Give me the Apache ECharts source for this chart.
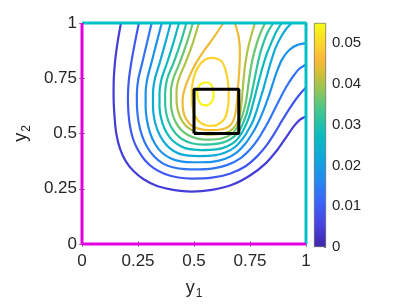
<!DOCTYPE html>
<html><head><meta charset="utf-8">
<script src="https://cdn.jsdelivr.net/npm/echarts@6/dist/echarts.min.js"></script>
<style>html,body{margin:0;padding:0;background:#fff}#c{width:407px;height:305px}</style>
</head><body><div id="c"></div>
<script>
// ---- data ----
const xTicks = [0, 0.25, 0.5, 0.75, 1];
const yTicks = [0, 0.25, 0.5, 0.75, 1];
const cbTicks = [0, 0.01, 0.02, 0.03, 0.04, 0.05];
const cMax = 0.0549;
const levels = [0.0045, 0.009, 0.0135, 0.018, 0.0225, 0.027, 0.0315, 0.036, 0.0405, 0.045, 0.0495, 0.054];

const c1 = [[0.174,1],[0.16,0.92],[0.148,0.83],[0.142,0.75],[0.141,0.67],[0.145,0.58],[0.153,0.5],[0.17,0.43],[0.195,0.375],[0.23,0.33],[0.275,0.293],[0.33,0.265],[0.39,0.248],[0.44,0.24],[0.49,0.237],[0.58,0.245],[0.67,0.268],[0.75,0.31],[0.82,0.365],[0.875,0.43],[0.915,0.488],[0.945,0.532],[0.972,0.562],[1,0.577]];
const c2 = [[0.254,1],[0.236,0.91],[0.22,0.82],[0.209,0.74],[0.205,0.66],[0.207,0.6],[0.214,0.535],[0.228,0.475],[0.25,0.425],[0.28,0.38],[0.32,0.343],[0.37,0.317],[0.43,0.301],[0.49,0.296],[0.58,0.3],[0.66,0.318],[0.73,0.352],[0.785,0.4],[0.828,0.452],[0.862,0.505],[0.893,0.558],[0.925,0.61],[0.955,0.655],[0.98,0.687],[1,0.708]];
const c3 = [[0.311,1],[0.29,0.91],[0.269,0.82],[0.252,0.75],[0.245,0.68],[0.246,0.61],[0.253,0.55],[0.268,0.49],[0.29,0.44],[0.32,0.398],[0.36,0.365],[0.41,0.346],[0.46,0.339],[0.52,0.338],[0.58,0.341],[0.65,0.358],[0.71,0.39],[0.755,0.433],[0.79,0.48],[0.818,0.528],[0.843,0.575],[0.866,0.622],[0.89,0.67],[0.915,0.716],[0.942,0.758],[0.97,0.793],[1,0.8125]];
const c4 = [[0.356,1],[0.333,0.91],[0.31,0.82],[0.292,0.75],[0.284,0.68],[0.284,0.62],[0.29,0.56],[0.303,0.505],[0.325,0.455],[0.355,0.415],[0.395,0.388],[0.44,0.374],[0.5,0.37],[0.58,0.372],[0.64,0.386],[0.69,0.414],[0.73,0.455],[0.76,0.5],[0.782,0.54],[0.8,0.58],[0.818,0.625],[0.834,0.67],[0.85,0.72],[0.868,0.775],[0.892,0.833],[0.925,0.878],[0.962,0.901],[1,0.909]];
const c5 = [[0.396,1],[0.372,0.91],[0.347,0.82],[0.326,0.75],[0.317,0.68],[0.317,0.62],[0.323,0.565],[0.337,0.515],[0.36,0.47],[0.39,0.435],[0.43,0.41],[0.475,0.4],[0.52,0.398],[0.59,0.401],[0.64,0.414],[0.685,0.44],[0.72,0.48],[0.745,0.52],[0.765,0.56],[0.782,0.61],[0.797,0.66],[0.812,0.71],[0.828,0.77],[0.845,0.83],[0.865,0.89],[0.89,0.94],[0.913,0.975],[0.936,1]];
const c6 = [[0.433,1],[0.408,0.91],[0.38,0.82],[0.356,0.75],[0.346,0.68],[0.346,0.62],[0.353,0.57],[0.367,0.525],[0.39,0.485],[0.42,0.455],[0.46,0.434],[0.5,0.427],[0.53,0.425],[0.6,0.428],[0.645,0.44],[0.685,0.465],[0.712,0.5],[0.732,0.54],[0.748,0.58],[0.762,0.63],[0.775,0.68],[0.79,0.74],[0.806,0.8],[0.825,0.86],[0.845,0.91],[0.867,0.96],[0.891,1]];
const c7 = [[0.466,1],[0.44,0.91],[0.409,0.82],[0.381,0.75],[0.371,0.68],[0.372,0.62],[0.38,0.575],[0.395,0.535],[0.418,0.5],[0.448,0.474],[0.49,0.456],[0.54,0.45],[0.6,0.453],[0.645,0.465],[0.68,0.487],[0.703,0.515],[0.72,0.55],[0.735,0.59],[0.745,0.63],[0.755,0.67],[0.765,0.72],[0.777,0.78],[0.792,0.85],[0.81,0.91],[0.83,0.96],[0.854,1]];
const c8 = [[0.495,1],[0.468,0.91],[0.436,0.82],[0.408,0.75],[0.397,0.69],[0.397,0.63],[0.405,0.585],[0.42,0.548],[0.443,0.516],[0.475,0.492],[0.515,0.477],[0.55,0.472],[0.61,0.475],[0.65,0.487],[0.678,0.507],[0.697,0.535],[0.712,0.57],[0.724,0.61],[0.733,0.65],[0.74,0.7],[0.748,0.76],[0.76,0.83],[0.778,0.9],[0.797,0.955],[0.817,1]];
const c9 = [[0.522,1],[0.495,0.91],[0.462,0.82],[0.433,0.75],[0.422,0.69],[0.423,0.635],[0.432,0.59],[0.448,0.555],[0.472,0.528],[0.505,0.508],[0.54,0.498],[0.56,0.495],[0.62,0.498],[0.655,0.508],[0.678,0.526],[0.693,0.55],[0.703,0.58],[0.71,0.62],[0.715,0.67],[0.72,0.73],[0.727,0.8],[0.738,0.87],[0.752,0.93],[0.772,1]];
const c10 = [[0.631,1],[0.585,0.93],[0.545,0.875],[0.507,0.815],[0.478,0.755],[0.458,0.7],[0.449,0.65],[0.452,0.602],[0.465,0.565],[0.488,0.537],[0.52,0.522],[0.57,0.515],[0.62,0.518],[0.648,0.527],[0.668,0.545],[0.68,0.57],[0.688,0.61],[0.693,0.66],[0.698,0.73],[0.703,0.8],[0.705,0.87],[0.699,0.94],[0.683,1]];
const c11 = [[0.585,0.843],[0.62,0.83],[0.64,0.79],[0.652,0.73],[0.655,0.67],[0.65,0.61],[0.635,0.565],[0.605,0.54],[0.565,0.535],[0.53,0.548],[0.505,0.578],[0.492,0.63],[0.49,0.69],[0.498,0.75],[0.518,0.8],[0.55,0.835],[0.585,0.843]];
const c12 = [[0.55,0.732],[0.572,0.726],[0.585,0.703],[0.587,0.668],[0.577,0.64],[0.555,0.627],[0.532,0.633],[0.518,0.657],[0.515,0.692],[0.526,0.72],[0.55,0.732]];
const contours = [c1, c2, c3, c4, c5, c6, c7, c8, c9, c10, c11, c12];

const boxPath = [[0.5,0.5],[0.7,0.5],[0.7,0.7],[0.5,0.7],[0.5,0.5]];
const magentaEdge = [[0,1],[0,0],[1,0]];
const cyanEdge = [[0,1],[1,1],[1,0]];

// ---- style ----
const parula = [[0,[62,38,168]],[0.1,[71,66,225]],[0.2,[60,100,248]],[0.3,[35,138,240]],[0.4,[15,168,218]],[0.5,[12,187,188]],[0.6,[60,198,148]],[0.7,[145,198,85]],[0.78,[215,190,55]],[0.84,[250,185,55]],[0.9,[252,210,45]],[1,[249,251,20]]];
function cmap(t){
  t = Math.max(0, Math.min(1, t));
  for (let i = 1; i < parula.length; i++) {
    if (t <= parula[i][0]) {
      const [t0, a] = parula[i-1], [t1, b] = parula[i];
      const f = (t - t0) / (t1 - t0);
      return 'rgb(' + a.map((v, j) => Math.round(v + (b[j] - v) * f)).join(',') + ')';
    }
  }
  return 'rgb(249,251,20)';
}
const FONT = 'Liberation Sans, Arial, Helvetica, sans-serif';
const TXT = '#262626';

const series = contours.map((pts, i) => ({
  type: 'line', data: pts, showSymbol: false, smooth: 0.22, clip: false, silent: true,
  lineStyle: { color: cmap(levels[i] / cMax), width: 2.2 }, z: 2
}));
series.push({ type: 'line', data: boxPath, showSymbol: false, clip: false, silent: true,
  lineStyle: { color: '#000', width: 3 }, z: 4 });
series.push({ type: 'line', data: cyanEdge, showSymbol: false, clip: false, silent: true,
  lineStyle: { color: '#00bfc6', width: 3 }, z: 5 });
series.push({ type: 'line', data: magentaEdge, showSymbol: false, clip: false, silent: true,
  lineStyle: { color: '#e000e0', width: 3 }, z: 6 });
series.push({ type: 'bar', xAxisIndex: 2, yAxisIndex: 2, data: [cMax], barWidth: '100%', silent: true,
  itemStyle: { borderColor: '#555', borderWidth: 0.6,
    color: { type: 'linear', x: 0, y: 1, x2: 0, y2: 0,
      colorStops: parula.map(([o, c]) => ({ offset: o, color: 'rgb(' + c.join(',') + ')' })) } } });

const tickStyle = { show: true, inside: true, length: 3, lineStyle: { color: '#666', width: 0.8 } };
const labelStyle = { fontSize: 17, color: TXT, fontFamily: FONT };
const rich = {
  i: { fontSize: 18, fontFamily: FONT, color: TXT },
  s: { fontSize: 12, fontFamily: FONT, color: TXT, padding: [12, 0, 0, 1] }
};

const chart = echarts.init(document.getElementById('c'), null, { renderer: 'canvas' });
chart.setOption({
  animation: false,
  grid: [
    { left: 82, top: 23, width: 224, height: 224 },
    { left: 314, top: 23, width: 12, height: 224 }
  ],
  xAxis: [
    { gridIndex: 0, type: 'value', min: xTicks[0], max: xTicks[xTicks.length - 1], interval: 0.25, position: 'bottom',
      axisLine: { show: false }, axisTick: tickStyle, splitLine: { show: false },
      axisLabel: Object.assign({ margin: 9, formatter: v => xTicks.includes(v) ? String(v) : '' }, labelStyle),
      name: '{i|y}{s|1}', nameLocation: 'middle', nameGap: 32, nameTextStyle: { rich } },
    { gridIndex: 0, type: 'value', min: 0, max: 1, interval: 0.25, position: 'top',
      axisLine: { show: false }, axisTick: tickStyle, splitLine: { show: false }, axisLabel: { show: false } },
    { gridIndex: 1, type: 'category', data: ['c'], show: false }
  ],
  yAxis: [
    { gridIndex: 0, type: 'value', min: yTicks[0], max: yTicks[yTicks.length - 1], interval: 0.25, position: 'left',
      axisLine: { show: false }, axisTick: tickStyle, splitLine: { show: false },
      axisLabel: Object.assign({ margin: 5, formatter: v => yTicks.includes(v) ? String(v) : '' }, labelStyle),
      name: '{i|y}{s|2}', nameLocation: 'middle', nameGap: 46, nameTextStyle: { rich } },
    { gridIndex: 0, type: 'value', min: 0, max: 1, interval: 0.25, position: 'right',
      axisLine: { show: false }, axisTick: tickStyle, splitLine: { show: false }, axisLabel: { show: false } },
    { gridIndex: 1, type: 'value', min: 0, max: cMax, interval: 0.01, position: 'right',
      axisLine: { show: false }, splitLine: { show: false },
      axisTick: { show: true, inside: true, length: 2, lineStyle: { color: '#555', width: 0.8 } },
      axisLabel: { margin: 6, fontSize: 15, color: TXT, fontFamily: FONT, showMaxLabel: false,
        formatter: v => { const m = cbTicks.find(t => Math.abs(t - v) < 1e-9); return m === undefined ? '' : String(m); } } }
  ],
  series
});
</script>
</body></html>
